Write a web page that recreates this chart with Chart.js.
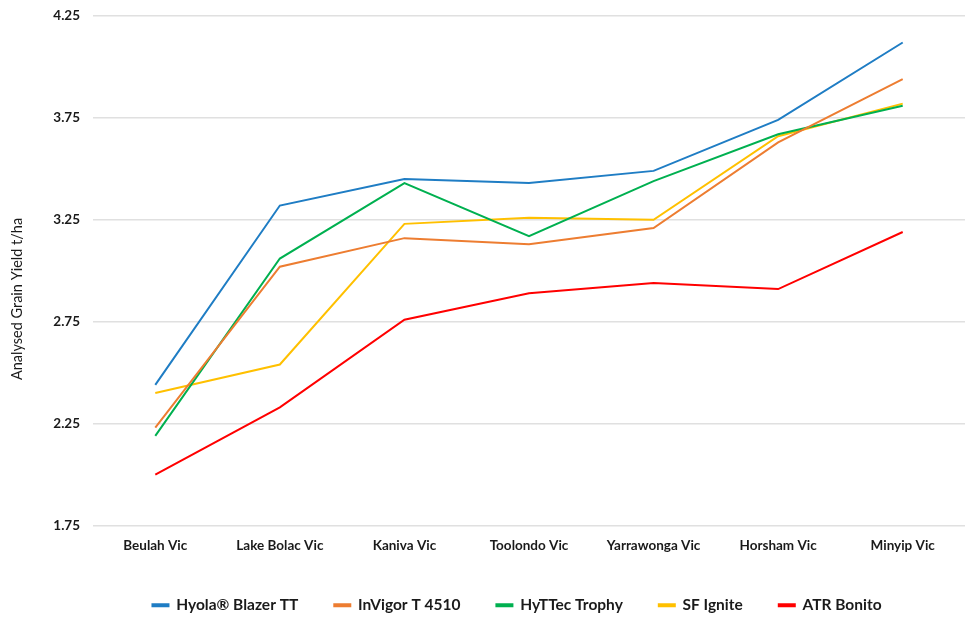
<!DOCTYPE html>
<html>
<head>
<meta charset="utf-8">
<script src="https://cdn.jsdelivr.net/npm/chart.js@4"></script>
<style>
  html, body { margin: 0; padding: 0; background: #fff; }
  #wrap { width: 965px; height: 619px; }
</style>
</head>
<body>
<div id="wrap"><canvas id="chart" width="965" height="619"></canvas></div>
<script>
const sites = ["Beulah Vic", "Lake Bolac Vic", "Kaniva Vic", "Toolondo Vic", "Yarrawonga Vic", "Horsham Vic", "Minyip Vic"];

const hyolaBlazer = [2.44, 3.32, 3.45, 3.43, 3.49, 3.74, 4.12];
const invigor4510 = [2.23, 3.02, 3.16, 3.13, 3.21, 3.63, 3.94];
const hyttecTrophy = [2.19, 3.06, 3.43, 3.17, 3.44, 3.67, 3.81];
const sfIgnite = [2.40, 2.54, 3.23, 3.26, 3.25, 3.66, 3.82];
const atrBonito = [2.00, 2.33, 2.76, 2.89, 2.94, 2.91, 3.19];

const yTitle = "Analysed Grain Yield t/ha";

const series = [
  { label: "Hyola\u00AE Blazer TT", data: hyolaBlazer, color: "#1f7dc4" },
  { label: "InVigor T 4510", data: invigor4510, color: "#ed7d31" },
  { label: "HyTTec Trophy", data: hyttecTrophy, color: "#00b050" },
  { label: "SF Ignite", data: sfIgnite, color: "#ffc000" },
  { label: "ATR Bonito", data: atrBonito, color: "#ff0000" },
];

const FONT = "Lato, 'Open Sans', sans-serif";

// axis title drawn a bit below the plot middle, like the original;
// legend nudged a little left of the plot centre
const tweaks = {
  id: "tweaks",
  afterLayout(chart) {
    chart.legend.left -= 12;
    chart.legend.right -= 12;
  },
  afterDraw(chart) {
    const { ctx } = chart;
    ctx.save();
    ctx.translate(17, 299);
    ctx.rotate(-Math.PI / 2);
    ctx.font = `14.5px ${FONT}`;
    ctx.fillStyle = "#1a1a1a";
    ctx.textAlign = "center";
    ctx.textBaseline = "middle";
    ctx.fillText(yTitle, 0, 0);
    ctx.restore();
  },
};

new Chart(document.getElementById("chart"), {
  type: "line",
  data: {
    labels: sites,
    datasets: series.map((s) => ({
      label: s.label, data: s.data,
      borderColor: s.color, backgroundColor: s.color,
      borderWidth: 2, pointRadius: 0, tension: 0,
    })),
  },
  plugins: [tweaks],
  options: {
    responsive: false,
    animation: false,
    layout: { padding: { top: 0, right: 0, left: 4, bottom: -4 } },
    plugins: {
      legend: {
        position: "bottom",
        fullSize: false,
        labels: {
          boxWidth: 16, boxHeight: 2, padding: 36,
          color: "#1a1a1a",
          font: { family: FONT, size: 15.5, weight: "bold" },
        },
      },
      tooltip: { enabled: false },
    },
    scales: {
      x: {
        offset: true,
        grid: { display: false, drawTicks: false },
        border: { display: false },
        ticks: { color: "#1a1a1a", padding: 10, font: { family: FONT, size: 13.5, weight: "bold", lineHeight: 1.5 } },
        afterFit: (s) => { s.height = 36; },
      },
      y: {
        min: 1.75, max: 4.25,
        ticks: {
          stepSize: 0.5, padding: 13, color: "#1a1a1a",
          font: { family: FONT, size: 13.5, weight: "bold" },
          callback: (v) => Number(v).toFixed(2),
        },
        grid: { color: "#e0e0e0", lineWidth: 1.5, drawTicks: false },
        border: { display: false },
        afterFit: (s) => { s.width = 89; s.paddingTop = 16; },
      },
    },
  },
});
</script>
</body>
</html>
